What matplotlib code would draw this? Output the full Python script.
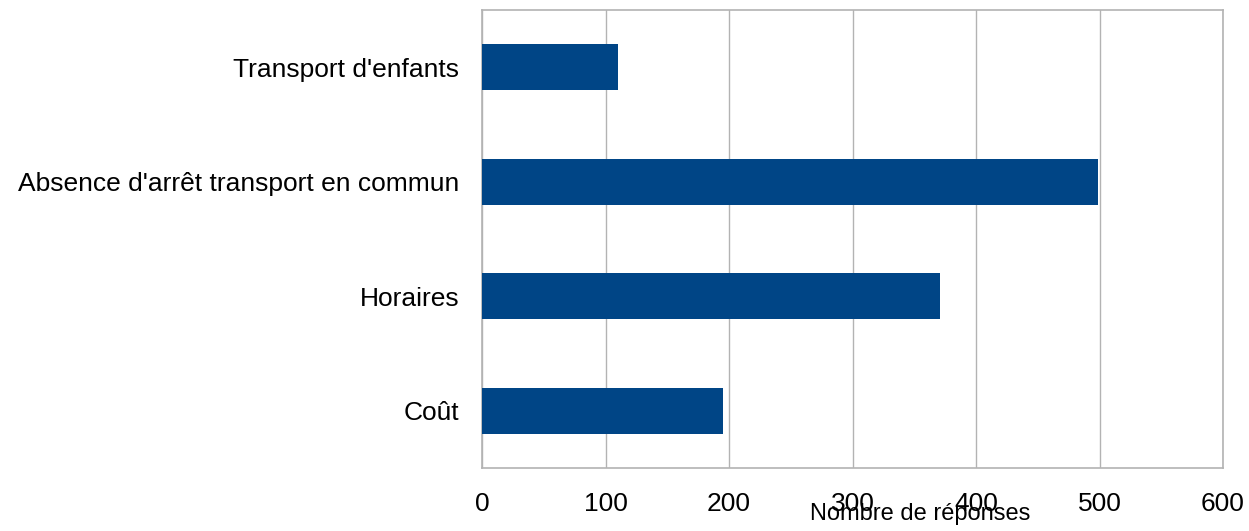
import matplotlib
matplotlib.use("Agg")
import matplotlib.pyplot as plt

categories = ["Coût", "Horaires", "Absence d'arrêt transport en commun", "Transport d'enfants"]
values = [195, 371, 499, 110]
xticks = [0, 100, 200, 300, 400, 500, 600]

plt.rcParams['font.family'] = ['Liberation Sans', 'DejaVu Sans']

W, H = 1249, 531
fig = plt.figure(figsize=(W/100, H/100), dpi=100)
ax = fig.add_axes([482/W, 1-468/H, (1223-482)/W, (468-10)/H])

ax.barh(range(len(categories)), values, height=0.40, color='#004586', zorder=3)
ax.set_xlim(0, 600)
ax.set_ylim(-0.5, 3.5)
ax.set_xticks(xticks)
ax.set_xticklabels([str(t) for t in xticks])
ax.set_yticks(range(len(categories)))
ax.set_yticklabels(categories)
ax.tick_params(axis='both', length=0, labelsize=19, colors='black')
ax.tick_params(axis='x', pad=17)
ax.tick_params(axis='y', pad=16.5)
ax.grid(axis='x', color='#b3b3b3', linewidth=1, zorder=0)
for s in ax.spines.values():
    s.set_color('#b3b3b3')
    s.set_linewidth(1.2)

fig.text(920/W, 1-520/H, "Nombre de réponses", ha='center', va='baseline', fontsize=17)

fig.savefig("out.png", dpi=100)
